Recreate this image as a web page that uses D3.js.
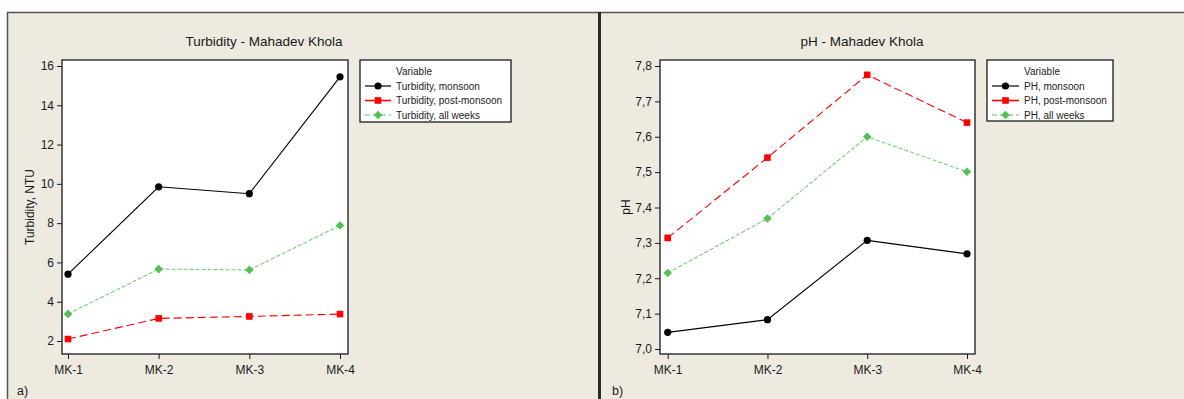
<!DOCTYPE html>
<html>
<head>
<meta charset="utf-8">
<script src="https://cdn.jsdelivr.net/npm/d3@7"></script>
<style>
  body { margin: 0; background: #fff; }
  svg { display: block; font-family: "Liberation Sans", Arial, sans-serif; }
  .tick text { font-size: 12px; fill: #1a1a1a; }
  .tick line { stroke: #1a1a1a; }
</style>
</head>
<body>
<svg></svg>
<script>
// Data

const categories = ['MK-1', 'MK-2', 'MK-3', 'MK-4']

const turbMonsoon = [5.4, 9.85, 9.5, 15.45]
const turbPost = [2.1, 3.15, 3.25, 3.37]
const turbAll = [3.38, 5.66, 5.62, 7.88]
const turbTicks = [2, 4, 6, 8, 10, 12, 14, 16]

const phMonsoon = [7.047, 7.083, 7.307, 7.269]
const phPost = [7.314, 7.541, 7.775, 7.640]
const phAll = [7.215, 7.369, 7.600, 7.501]
const phTicks = [7.0, 7.1, 7.2, 7.3, 7.4, 7.5, 7.6, 7.7, 7.8]

// Series styles

const styles = {
  monsoon: {color: '#000', dash: null, marker: 'circle', legendColor: '#444'},
  post: {color: '#ff0000', dash: '8 4', marker: 'square', legendColor: '#ff0000'},
  all: {color: '#77cc77', dash: '4 2', marker: 'diamond', legendColor: '#8fd88f', markerColor: '#55c155'},
}

// DOM

const width = 1184
const height = 399

const svg = d3.select('svg')
    .attr('width', width)
    .attr('height', height)

const bg = '#eeeae0'

// panel backgrounds
svg.append('rect')
    .attr('x', 7).attr('y', 12)
    .attr('width', 593).attr('height', height)
    .attr('fill', bg)
svg.append('rect')
    .attr('x', 600).attr('y', 12)
    .attr('width', width - 600).attr('height', height)
    .attr('fill', bg)

// panel borders
svg.append('path')
    .attr('d', `M7.5,${height}V12.5H${width}`)
    .attr('fill', 'none')
    .attr('stroke', '#555')
    .attr('stroke-width', 1.5)
svg.append('line')
    .attr('x1', 599.5).attr('x2', 599.5)
    .attr('y1', 12).attr('y2', height)
    .attr('stroke', '#2a2a2a')
    .attr('stroke-width', 3)

function marker(g, type, x, y, color) {
  if (type == 'circle') {
    g.append('circle')
        .attr('cx', x).attr('cy', y).attr('r', 3.6)
        .attr('fill', color)
  }
  else if (type == 'square') {
    g.append('rect')
        .attr('x', x - 3.3).attr('y', y - 3.3)
        .attr('width', 6.6).attr('height', 6.6)
        .attr('fill', color)
  }
  else {
    g.append('path')
        .attr('d', `M${x},${y - 4.3}L${x + 4.3},${y}L${x},${y + 4.3}L${x - 4.3},${y}Z`)
        .attr('fill', color)
  }
}

function drawPanel(cfg) {
  const g = svg.append('g')

  const x = d3.scalePoint()
      .domain(categories)
      .range(cfg.xRange)

  const y = d3.scaleLinear()
      .domain([cfg.ticks[0], cfg.ticks[cfg.ticks.length - 1]])
      .range(cfg.yRange)

  const [px0, px1, py0, py1] = cfg.plot

  g.append('rect')
      .attr('x', px0).attr('y', py0)
      .attr('width', px1 - px0).attr('height', py1 - py0)
      .attr('fill', '#fff')

  const yAxis = g.append('g')
      .attr('transform', `translate(${px0},0)`)
      .call(d3.axisLeft(y)
        .tickValues(cfg.ticks)
        .tickSize(5)
        .tickPadding(3)
        .tickFormat(cfg.format))
  yAxis.select('.domain').remove()

  const xAxis = g.append('g')
      .attr('transform', `translate(0,${py1})`)
      .call(d3.axisBottom(x)
        .tickSize(5)
        .tickPadding(6))
  xAxis.select('.domain').remove()

  const line = d3.line()
      .x((d, i) => x(categories[i]))
      .y(d => y(d))

  _series(cfg).forEach(s => {
    const st = styles[s.key]
    g.append('path')
        .datum(s.values)
        .attr('d', line)
        .attr('fill', 'none')
        .attr('stroke', st.color)
        .attr('stroke-width', 1.1)
        .attr('stroke-dasharray', st.dash)
    s.values.forEach((v, i) => {
      marker(g, st.marker, x(categories[i]), y(v), st.markerColor || st.color)
    })
  })

  g.append('rect')
      .attr('x', px0).attr('y', py0)
      .attr('width', px1 - px0).attr('height', py1 - py0)
      .attr('fill', 'none')
      .attr('stroke', '#1a1a1a')
      .attr('stroke-width', 1.3)

  g.append('text')
      .attr('x', cfg.titleX).attr('y', 46)
      .attr('text-anchor', 'middle')
      .attr('font-size', 13.5)
      .attr('fill', '#1a1a1a')
      .text(cfg.title)

  g.append('text')
      .attr('transform', `translate(${cfg.yLabelX},${cfg.yLabelY}) rotate(-90)`)
      .attr('text-anchor', 'middle')
      .attr('font-size', 12)
      .attr('fill', '#1a1a1a')
      .text(cfg.yLabel)

  g.append('text')
      .attr('x', cfg.tagX).attr('y', 395)
      .attr('font-size', 12.5)
      .attr('fill', '#1a1a1a')
      .text(cfg.tag)

  // Legend
  const [lx0, lx1, ly0, ly1] = cfg.legend
  const lg = g.append('g')
  lg.append('rect')
      .attr('x', lx0).attr('y', ly0)
      .attr('width', lx1 - lx0).attr('height', ly1 - ly0)
      .attr('fill', '#fff')
      .attr('stroke', '#1a1a1a')
      .attr('stroke-width', 1.3)
  lg.append('text')
      .attr('x', cfg.legendText).attr('y', ly0 + 15)
      .attr('font-size', 10)
      .attr('fill', '#222')
      .text('Variable')
  _series(cfg).forEach((s, i) => {
    const st = styles[s.key]
    const ly = ly0 + 26 + i * 14.5
    lg.append('line')
        .attr('x1', lx0 + 5).attr('x2', cfg.legendText - 5)
        .attr('y1', ly).attr('y2', ly)
        .attr('stroke', st.legendColor)
        .attr('stroke-width', 1.6)
        .attr('stroke-dasharray', st.dash ? (s.key == 'post' ? null : '5 3') : null)
    marker(lg, st.marker, (lx0 + cfg.legendText) / 2, ly, st.markerColor || st.color)
    lg.append('text')
        .attr('x', cfg.legendText).attr('y', ly + 3.5)
        .attr('font-size', 10)
        .attr('fill', '#222')
        .text(s.label)
  })
}

function _series(cfg) {
  return [
    {key: 'monsoon', values: cfg.monsoon, label: cfg.prefix + ', monsoon'},
    {key: 'post', values: cfg.post, label: cfg.prefix + ', post-monsoon'},
    {key: 'all', values: cfg.all, label: cfg.prefix + ', all weeks'},
  ]
}

drawPanel({
  title: 'Turbidity - Mahadev Khola',
  titleX: 264,
  yLabel: 'Turbidity, NTU',
  yLabelX: 34,
  yLabelY: 207,
  tag: 'a)',
  tagX: 17,
  prefix: 'Turbidity',
  monsoon: turbMonsoon,
  post: turbPost,
  all: turbAll,
  ticks: turbTicks,
  format: d => d,
  xRange: [68, 340],
  yRange: [341, 66],
  plot: [62, 348, 60, 354],
  legend: [360, 511, 60, 122],
  legendText: 396,
})

drawPanel({
  title: 'pH - Mahadev Khola',
  titleX: 862,
  yLabel: 'pH',
  yLabelX: 630,
  yLabelY: 207,
  tag: 'b)',
  tagX: 612,
  prefix: 'PH',
  monsoon: phMonsoon,
  post: phPost,
  all: phAll,
  ticks: phTicks,
  format: d => d.toFixed(1).replace('.', ','),
  xRange: [667.7, 967],
  yRange: [349, 66],
  plot: [660, 975, 60, 354],
  legend: [987, 1113, 60, 121],
  legendText: 1024,
})
</script>
</body>
</html>
